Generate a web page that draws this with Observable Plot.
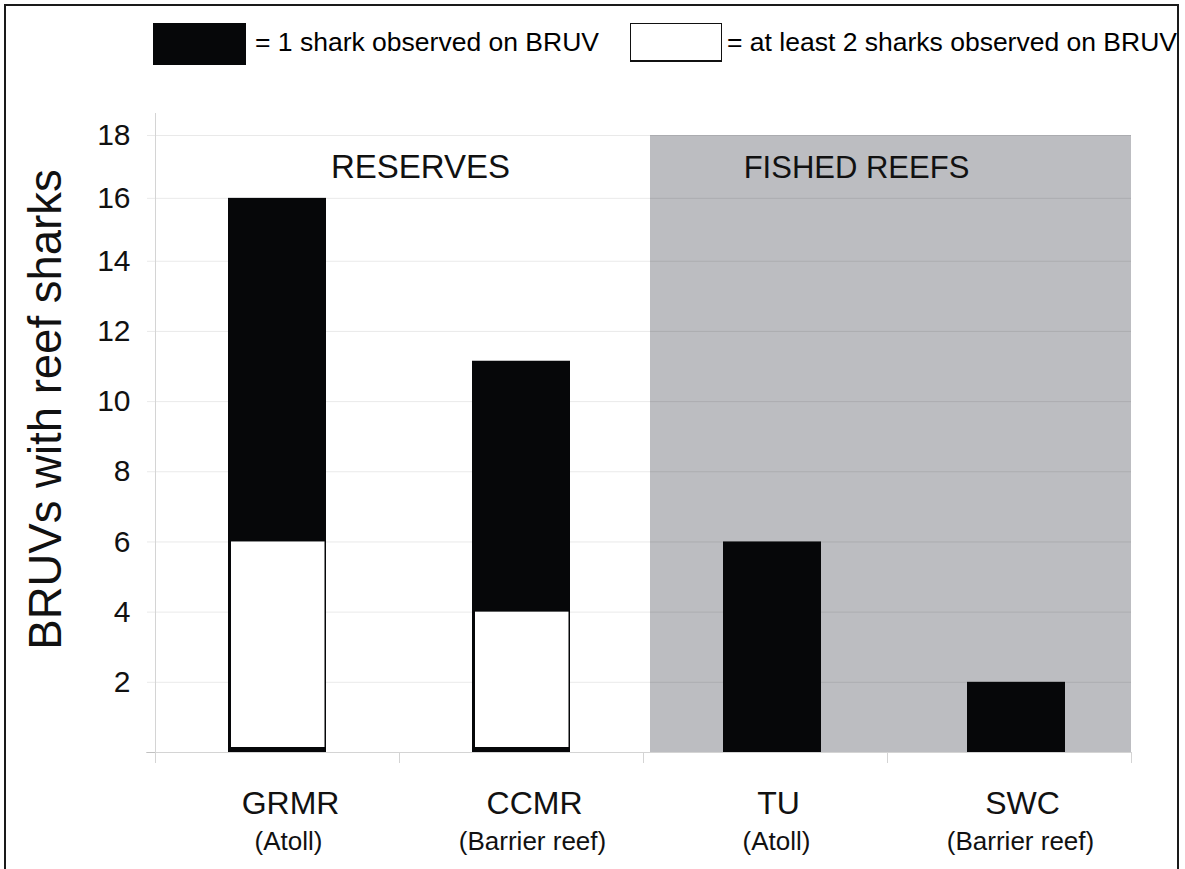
<!DOCTYPE html>
<html>
<head>
<meta charset="utf-8">
<script src="https://cdn.jsdelivr.net/npm/d3@7"></script>
<script src="https://cdn.jsdelivr.net/npm/@observablehq/plot@0.6"></script>
<style>
  html, body { margin: 0; padding: 0; background: #fff; }
  body { width: 1185px; height: 869px; position: relative; overflow: hidden;
         font-family: "Liberation Sans", Arial, sans-serif; }
  #frame { position: absolute; left: 4px; top: 4px; width: 1171px; height: 900px;
           border: 2px solid #1a1a1a; border-bottom: none; overflow: hidden; }
  .sw { position: absolute; box-sizing: border-box; }
  .lt { position: absolute; font-size: 26.5px; line-height: 26px; color: #000; white-space: nowrap; }
  #chart { position: absolute; left: -6px; top: 94px; width: 1185px; height: 769px; }
  #chart svg { max-width: none !important; width: 1185px; height: 769px; }
</style>
</head>
<body>
<div id="frame">
  <div class="sw" style="left:147px; top:17px; width:93px; height:42px; background:#060709;"></div>
  <div class="lt" id="lt1" style="left:249px; top:23px;"></div>
  <div class="sw" style="left:624px; top:17px; width:92px; height:39px; background:#fff; border:1.5px solid #111; border-bottom:2.5px solid #111;"></div>
  <div class="lt" id="lt2" style="left:721px; top:23px;"></div>
  <div id="chart"></div>
</div>
<script>
// ---- data ----
const sites = ["GRMR", "CCMR", "TU", "SWC"];
const habitats = ["(Atoll)", "(Barrier reef)", "(Atoll)", "(Barrier reef)"];
const siteZone = ["RESERVES", "RESERVES", "FISHED REEFS", "FISHED REEFS"];
const oneShark = [10, 7.15, 6, 2];      // BRUVs with exactly 1 shark
const twoPlus = [6, 4, 0, 0];           // BRUVs with at least 2 sharks
const zones = ["RESERVES", "FISHED REEFS"];
const yTicks = [0, 2, 4, 6, 8, 10, 12, 14, 16, 18];
const legendLabels = ["= 1 shark observed on BRUV", "= at least 2 sharks observed on BRUV"];
const yLabel = "BRUVs with reef sharks";

document.getElementById("lt1").textContent = legendLabels[0];
document.getElementById("lt2").textContent = legendLabels[1];

const rows = sites.map((s, i) => ({
  site: s, habitat: habitats[i], zone: siteZone[i],
  one: oneShark[i], two: twoPlus[i], total: oneShark[i] + twoPlus[i]
}));
const reserves = rows.filter(d => d.zone === zones[0]);
const fished = rows.filter(d => d.zone === zones[1]);

const font = "'Liberation Sans', Arial, sans-serif";
const ink = "#111";
const yMax = yTicks[yTicks.length - 1];
// the source axis is slightly compressed above 14
const yWarp = v => v <= 14 ? v : 14 + (v - 14) * 0.8958;

const chart = Plot.plot({
  width: 1185,
  height: 769,
  marginLeft: 155,
  marginRight: 54,
  marginTop: 35,
  marginBottom: 117,
  style: { fontFamily: font, background: "transparent", color: ink },
  x: { domain: sites, padding: 0 },
  y: { transform: yWarp, domain: [0, yWarp(yMax)] },
  marks: [
    // shaded fished-reef panel
    Plot.barY(fished.slice(0, 1), { x: "site", y1: 0, y2: yMax, fill: "#bcbdc1", insetLeft: 7 }),
    Plot.barY(fished.slice(1), { x: "site", y1: 0, y2: yMax, fill: "#bcbdc1" }),
    // grid
    Plot.gridY(yTicks, { stroke: "#000", strokeOpacity: 0.085, strokeWidth: 1 }),
    Plot.ruleY([0], { stroke: "#d4d4d4", insetLeft: -9 }),
    // y axis line
    Plot.ruleX([sites[0]], { dx: -122, stroke: "#d4d4d4", insetTop: -22, insetBottom: -11 }),
    // bars: total (black) with the "at least 2" part in white
    Plot.barY(reserves, { x: "site", y: "total", fill: "#060709", insetLeft: 73, insetRight: 73 }),
    Plot.barY(reserves, { x: "site", y: "two", fill: "#fff", insetLeft: 76, insetRight: 74.5, insetBottom: 5 }),
    Plot.barY(fished, { x: "site", y: "total", fill: "#060709", insetLeft: 73, insetRight: 73, dx: 7 }),
    // zone labels
    Plot.text([zones[0]], { x: () => sites[0], frameAnchor: "top", lineAnchor: "bottom", dx: 143, dy: 42, fontSize: 33, fill: ink }),
    Plot.text([zones[1]], { x: () => sites[2], frameAnchor: "top", lineAnchor: "bottom", dx: 91, dy: 42, fontSize: 31, fill: ink }),
    // y axis
    Plot.axisY(yTicks, { tickSize: 8, tickPadding: 17, fontSize: 30, stroke: "#000", strokeOpacity: 0.085,
      tickFormat: d => d === 0 ? "" : String(d), fill: ink, label: null }),
    Plot.text([yLabel], { frameAnchor: "left", textAnchor: "middle", rotate: -90, dx: -109, dy: -34.5, fontSize: 45.5, fill: ink }),
    // x axis: boundary ticks, site names, habitat
    Plot.axisX({ tickSize: 11, dx: 122, stroke: "#d4d4d4", tickFormat: () => "", label: null }),
    Plot.axisX({ tickSize: 0, tickPadding: 39, fontSize: 32, dx: 13, fill: ink, label: null }),
    Plot.axisX({ tickSize: 0, tickPadding: 79, fontSize: 26, dx: 11, fill: ink, label: null,
      tickFormat: s => habitats[sites.indexOf(s)] })
  ]
});
document.getElementById("chart").appendChild(chart);
</script>
</body>
</html>
